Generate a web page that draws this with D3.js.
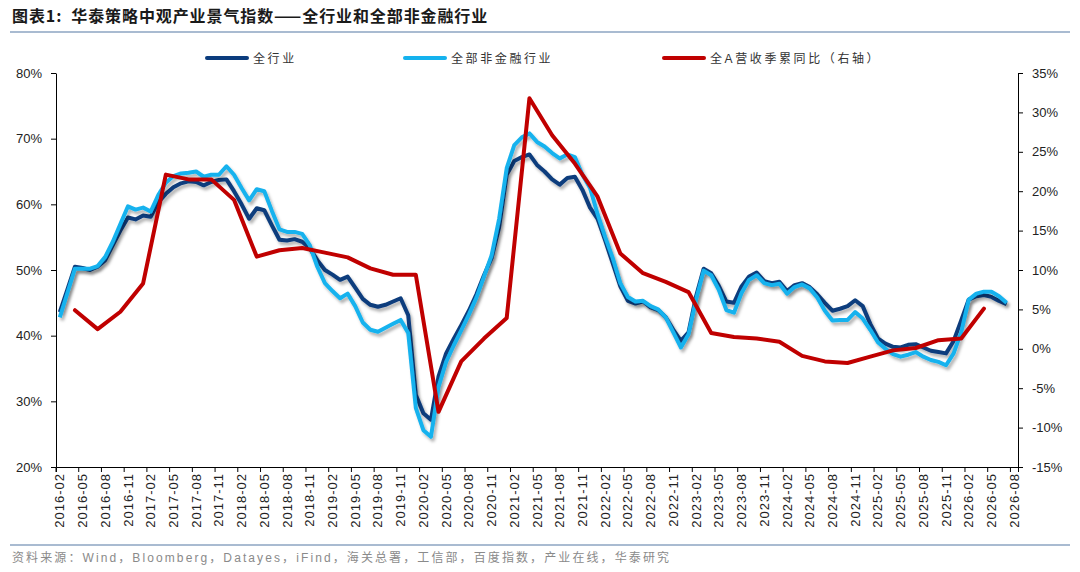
<!DOCTYPE html>
<html>
<head>
<meta charset="utf-8">
<script src="https://cdn.jsdelivr.net/npm/d3@7"></script>
<style>
  body { margin: 0; background: #fff; }
  svg text { font-family: "Liberation Sans", Arial, "Noto Sans CJK SC", sans-serif; }
</style>
</head>
<body>
<svg id="chart" width="1080" height="572"></svg>
<script>
// categories: monthly, first and last month on the x axis
const firstMonth = "2016-02";
const lastMonth = "2026-08";

// 全行业 (left axis, %), monthly from 2016-02
const fullIndustry = [
  43.6, 47.0, 50.5, 50.3, 50.0, 50.5, 51.5, 53.8, 56.0, 58.0, 57.7, 58.3,
  58.1, 60.3, 61.6, 62.6, 63.2, 63.5, 63.4, 62.9, 63.4, 63.7, 63.8, 62.0,
  60.0, 57.8, 59.4, 59.1, 56.8, 54.6, 54.5, 54.7, 54.3, 53.3, 51.5, 50.0,
  49.3, 48.5, 49.0, 47.3, 45.6, 44.7, 44.4, 44.7, 45.2, 45.7, 43.1, 31.0,
  28.2, 27.2, 33.8, 37.3, 39.5, 41.6, 43.8, 46.3, 49.2, 51.8, 56.5, 64.5,
  66.6, 67.2, 67.6, 66.0, 65.0, 63.8, 63.0, 64.0, 64.2, 62.2, 59.5, 57.8,
  54.5, 51.0, 47.5, 45.3, 44.9, 45.2, 44.3, 43.9, 42.8, 40.9, 39.2, 40.5,
  46.0, 50.2, 49.5, 47.6, 45.2, 45.0, 47.5, 49.0, 49.6, 48.3, 48.0, 48.2,
  46.8, 47.7, 48.0, 47.4, 46.3, 45.0, 43.8, 44.1, 44.5, 45.4, 44.5, 41.8,
  39.6, 38.8, 38.3, 38.2, 38.6, 38.7, 38.2, 37.7, 37.5, 37.3, 39.2, 42.3,
  45.5, 46.0, 46.2, 45.9, 45.3, 44.8
];

// 全部非金融行业 (left axis, %), monthly from 2016-02
const nonFinancial = [
  42.8, 46.5, 50.2, 50.2, 50.2, 50.6, 52.0, 54.3, 57.0, 59.7, 59.2, 59.5,
  58.9, 61.4, 63.3, 64.3, 64.7, 64.8, 65.0, 64.2, 64.5, 64.5, 65.8, 64.5,
  62.5, 60.6, 62.3, 62.0, 59.0, 56.2, 55.8, 55.8, 55.5, 53.8, 50.5, 48.0,
  46.8, 45.7, 46.4, 44.5, 42.0, 40.9, 40.6, 41.2, 41.8, 42.4, 40.4, 29.0,
  25.6, 24.6, 32.2, 36.0, 38.5, 40.8, 43.2, 45.8, 49.0, 52.2, 57.8, 65.5,
  69.0, 70.2, 70.8, 69.5, 68.8, 67.8, 67.0, 67.6, 67.2, 64.5, 62.5, 58.5,
  55.0, 51.8, 48.0, 45.9, 45.2, 45.3, 44.5, 44.0, 42.8, 40.5, 38.2, 40.2,
  45.5, 49.9, 49.2, 47.0, 43.9, 43.5, 46.5, 48.5, 49.2, 48.0, 47.7, 47.9,
  46.4, 47.4, 47.8, 47.2, 45.8, 43.8, 42.3, 42.4, 42.4, 43.6, 42.6, 40.9,
  39.0, 38.0, 37.2, 36.8, 37.1, 37.5, 36.8, 36.3, 36.0, 35.5, 37.3, 40.5,
  45.5, 46.4, 46.7, 46.7, 46.0, 45.0
];

// 全A营收季累同比 (right axis, %)
const revenueMonths = [
  "2016-04", "2016-07", "2016-10", "2017-01", "2017-04", "2017-07", "2017-10",
  "2018-01", "2018-04", "2018-07", "2018-10", "2019-01", "2019-04", "2019-07",
  "2019-10", "2020-01", "2020-04", "2020-07", "2020-10", "2021-01", "2021-04",
  "2021-07", "2021-10", "2022-01", "2022-04", "2022-07", "2022-10", "2023-01",
  "2023-04", "2023-07", "2023-10", "2024-01", "2024-04", "2024-07", "2024-10",
  "2025-01", "2025-04", "2025-07", "2025-10", "2026-01", "2026-04"
];
const revenueYoY = [
  4.9, 2.5, 4.7, 8.3, 22.1, 21.5, 21.5,
  18.9, 11.7, 12.5, 12.8, 12.2, 11.6, 10.2,
  9.4, 9.4, -8.0, -1.6, 1.3, 3.9, 31.8,
  27.1, 23.5, 19.3, 12.1, 9.6, 8.5, 7.2,
  2.0, 1.5, 1.3, 0.9, -0.9, -1.6, -1.8,
  -1.0, -0.2, 0.1, 1.1, 1.3, 5.1
];

const leftTicks = [20, 30, 40, 50, 60, 70, 80];
const rightTicks = [-15, -10, -5, 0, 5, 10, 15, 20, 25, 30, 35];

const seriesNames = ["全行业", "全部非金融行业", "全A营收季累同比（右轴）"];
const colors = ["#0b3c7d", "#15b2ee", "#c00000"];

const titleText = "图表1:  华泰策略中观产业景气指数——全行业和全部非金融行业";
const sourceText = "资料来源：Wind，Bloomberg，Datayes，iFind，海关总署，工信部，百度指数，产业在线，华泰研究";

// build month categories
const parse = d3.timeParse("%Y-%m");
const fmt = d3.timeFormat("%Y-%m");
const months = d3.timeMonth
  .range(parse(firstMonth), d3.timeMonth.offset(parse(lastMonth), 1))
  .map(fmt);
const labelMonths = months.filter((d, i) => i % 3 === 0);

const svg = d3.select("#chart");

const plotLeft = 56, plotRight = 1018, plotTop = 73, plotBottom = 467;

const x = d3.scaleBand().domain(months).range([plotLeft, plotRight]);
const cx = (m) => x(m) + x.bandwidth() / 2;
const yL = d3.scaleLinear().domain([20, 80]).range([plotBottom, plotTop]);
const yR = d3.scaleLinear().domain([-15, 35]).range([plotBottom, plotTop]);

// shadow filter
const defs = svg.append("defs");
defs
  .append("filter")
  .attr("id", "shadow")
  .attr("x", "-5%")
  .attr("y", "-5%")
  .attr("width", "110%")
  .attr("height", "115%")
  .append("feDropShadow")
  .attr("dx", 2)
  .attr("dy", 3)
  .attr("stdDeviation", 1.6)
  .attr("flood-color", "#000")
  .attr("flood-opacity", 0.3);

// title and rules
svg
  .append("text")
  .attr("x", 12)
  .attr("y", 22)
  .text(titleText)
  .attr("font-size", "16px")
  .attr("font-weight", "bold")
  .attr("letter-spacing", "0.9px")
  .attr("fill", "#1a1a1a")
  .style("white-space", "pre")
  .style("font-family", "'Noto Sans CJK SC', sans-serif");

svg
  .append("line")
  .attr("x1", 10)
  .attr("x2", 1070)
  .attr("y1", 32)
  .attr("y2", 32)
  .attr("stroke", "#a9bbd1")
  .attr("stroke-width", 2);

svg
  .append("line")
  .attr("x1", 10)
  .attr("x2", 1070)
  .attr("y1", 545)
  .attr("y2", 545)
  .attr("stroke", "#a9bbd1")
  .attr("stroke-width", 2);

svg
  .append("text")
  .attr("x", 12)
  .attr("y", 562)
  .text(sourceText)
  .attr("font-size", "12px")
  .attr("letter-spacing", "2.1px")
  .attr("fill", "#8a8a8a");

// legend
const legendX = [207, 405, 664];
seriesNames.forEach((name, i) => {
  const g = svg.append("g").attr("transform", `translate(${legendX[i]}, 58)`);
  g.append("line")
    .attr("x1", 0)
    .attr("x2", 40)
    .attr("stroke", colors[i])
    .attr("stroke-width", 4)
    .attr("stroke-linecap", "round");
  g.append("text")
    .attr("x", 46)
    .attr("y", 4.5)
    .text(name)
    .attr("font-size", "12px")
    .attr("letter-spacing", "2.6px")
    .attr("fill", "#333");
});

// axes
const xAxis = svg
  .append("g")
  .attr("transform", `translate(0, ${plotBottom})`)
  .call(d3.axisBottom(x).tickValues(labelMonths).tickSizeOuter(0).tickSize(5));
xAxis.selectAll(".tick line").attr("transform", `translate(${-x.bandwidth() / 2}, 0)`);
xAxis
  .selectAll(".tick text")
  .attr("transform", "rotate(-90)")
  .attr("text-anchor", "end")
  .attr("x", -6)
  .attr("y", 0)
  .attr("dy", "0.35em")
  .attr("font-size", "13px")
  .attr("letter-spacing", "1px")
  .attr("fill", "#222");

const yLeftAxis = svg
  .append("g")
  .attr("transform", `translate(${plotLeft}, 0)`)
  .call(
    d3.axisLeft(yL).tickValues(leftTicks).tickFormat((d) => d + "%").tickSize(5).tickSizeOuter(0)
  );
yLeftAxis.selectAll(".tick text").attr("font-size", "13px").attr("fill", "#222").attr("x", -14);

const yRightAxis = svg
  .append("g")
  .attr("transform", `translate(${plotRight}, 0)`)
  .call(
    d3.axisRight(yR).tickValues(rightTicks).tickFormat((d) => d + "%").tickSize(5).tickSizeOuter(0)
  );
yRightAxis.selectAll(".tick text").attr("font-size", "13px").attr("fill", "#222").attr("x", 14);

svg.selectAll(".domain").attr("stroke", "#000");
svg.selectAll(".tick line").attr("stroke", "#000");
svg.selectAll(".tick text").style("font-family", "'Liberation Sans', Arial, sans-serif");

// lines
const lineLeft = d3
  .line()
  .x((d, i) => cx(months[i]))
  .y((d) => yL(d));

const lineRight = d3
  .line()
  .x((d, i) => cx(revenueMonths[i]))
  .y((d) => yR(d));

const plot = svg.append("g");

plot
  .append("path")
  .attr("d", lineLeft(fullIndustry))
  .attr("fill", "none")
  .attr("stroke", colors[0])
  .attr("stroke-width", 4)
  .attr("stroke-linejoin", "round")
  .attr("filter", "url(#shadow)");

plot
  .append("path")
  .attr("d", lineLeft(nonFinancial))
  .attr("fill", "none")
  .attr("stroke", colors[1])
  .attr("stroke-width", 4)
  .attr("stroke-linejoin", "round")
  .attr("filter", "url(#shadow)");

plot
  .append("path")
  .attr("d", lineRight(revenueYoY))
  .attr("fill", "none")
  .attr("stroke", colors[2])
  .attr("stroke-width", 4)
  .attr("stroke-linejoin", "round")
  .attr("stroke-linecap", "round");
</script>
</body>
</html>
